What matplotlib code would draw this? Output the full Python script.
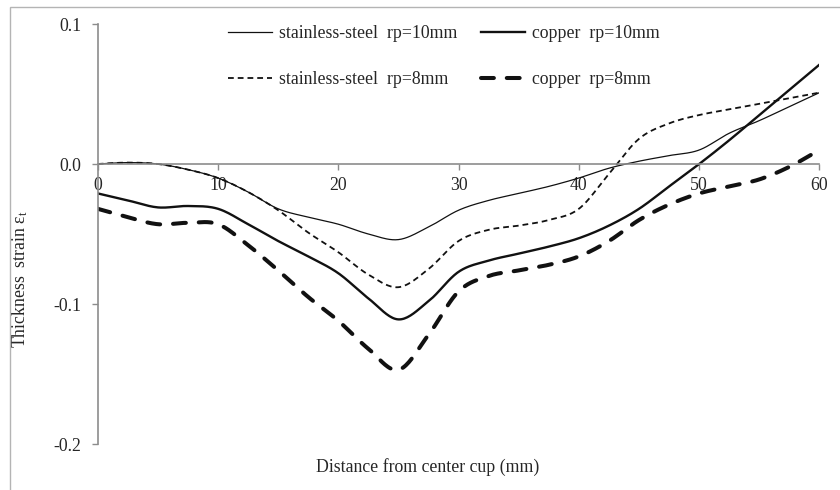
import numpy as np
import matplotlib
matplotlib.use("Agg")
import matplotlib.pyplot as plt
from matplotlib.patches import Rectangle

plt.rcParams['font.family'] = ['Liberation Serif', 'DejaVu Serif']
plt.rcParams['axes.unicode_minus'] = False
plt.rcParams['mathtext.fontset'] = 'custom'
plt.rcParams['mathtext.rm'] = 'Liberation Serif'
plt.rcParams['mathtext.it'] = 'Liberation Serif:italic'

# ---- data ----
distance = [0, 2.5, 5, 7.5, 10, 12.5, 15, 17.5, 20, 22.5, 25, 27.5, 30,
            32.5, 35, 37.5, 40, 42.5, 45, 47.5, 50, 52.5, 55, 57.5, 60]
ss_rp10 = [0.000, 0.001, 0.000, -0.004, -0.010, -0.020, -0.032, -0.038, -0.043,
           -0.050, -0.054, -0.045, -0.033, -0.026, -0.021, -0.016, -0.010,
           -0.003, 0.002, 0.006, 0.010, 0.022, 0.031, 0.041, 0.051]
cu_rp10 = [-0.021, -0.026, -0.031, -0.030, -0.032, -0.043, -0.055, -0.066,
           -0.078, -0.096, -0.111, -0.098, -0.077, -0.069, -0.064, -0.059,
           -0.053, -0.044, -0.032, -0.016, 0.000, 0.017, 0.035, 0.053, 0.071]
ss_rp8 = [0.000, 0.001, 0.000, -0.004, -0.010, -0.020, -0.033, -0.049, -0.063,
          -0.079, -0.088, -0.075, -0.055, -0.047, -0.044, -0.040, -0.032,
          -0.007, 0.018, 0.029, 0.035, 0.039, 0.043, 0.047, 0.051]
cu_rp8 = [-0.032, -0.038, -0.043, -0.042, -0.043, -0.058, -0.076, -0.095,
          -0.112, -0.132, -0.147, -0.122, -0.091, -0.080, -0.076, -0.072,
          -0.066, -0.055, -0.040, -0.029, -0.021, -0.016, -0.011, -0.002, 0.010]
labels = ['stainless-steel  rp=10mm', 'copper  rp=10mm',
          'stainless-steel  rp=8mm', 'copper  rp=8mm']
xticks = [0, 10, 20, 30, 40, 50, 60]
yticks = [-0.2, -0.1, 0.0, 0.1]


def smooth(x, y, n=20):
    """Catmull-Rom rendering of a smoothed line (like a spreadsheet smooth line)."""
    x = np.asarray(x, float)
    y = np.asarray(y, float)
    px = np.concatenate([[2 * x[0] - x[1]], x, [2 * x[-1] - x[-2]]])
    py = np.concatenate([[2 * y[0] - y[1]], y, [2 * y[-1] - y[-2]]])
    xs, ys = [], []
    t = np.linspace(0, 1, n, endpoint=False)
    for i in range(1, len(px) - 2):
        for arr, out in ((px, xs), (py, ys)):
            p0, p1, p2, p3 = arr[i - 1], arr[i], arr[i + 1], arr[i + 2]
            out.extend(0.5 * ((2 * p1) + (-p0 + p2) * t
                              + (2 * p0 - 5 * p1 + 4 * p2 - p3) * t ** 2
                              + (-p0 + 3 * p1 - 3 * p2 + p3) * t ** 3))
    xs.append(x[-1])
    ys.append(y[-1])
    return np.array(xs), np.array(ys)


FS = 12.8
fig = plt.figure(figsize=(8.4, 4.9), dpi=100)
ax = fig.add_axes([97.7 / 840, 1 - 444 / 490, 721.8 / 840, 420 / 490])

fig.patches.append(Rectangle((10 / 840, -0.1), 1.2, 1 - 7 / 490 + 0.1,
                             transform=fig.transFigure, fill=False,
                             edgecolor='#b4b4b4', lw=1.0))

col = '#111111'
h1, = ax.plot(*smooth(distance, ss_rp10), color=col, lw=0.9, label=labels[0])
h2, = ax.plot(*smooth(distance, cu_rp10), color=col, lw=1.7, label=labels[1])
h3, = ax.plot(*smooth(distance, ss_rp8), color=col, lw=1.3, dashes=(3.2, 2.2),
              label=labels[2])
h4, = ax.plot(*smooth(distance, cu_rp8), color=col, lw=2.9, dashes=(3.2, 3.2),
              dash_capstyle='round', label=labels[3])

ax.set_xlim(0, 60)
ax.set_ylim(-0.2, 0.1)
ax.set_xticks(xticks)
ax.set_yticks(yticks)
ax.set_xticklabels([str(v) for v in xticks])
ax.set_yticklabels(['%.1f' % v for v in yticks])

ax.spines['bottom'].set_position(('data', 0))
ax.spines['top'].set_visible(False)
ax.spines['right'].set_visible(False)
for s in ('bottom', 'left'):
    ax.spines[s].set_color('#8c8c8c')
    ax.spines[s].set_linewidth(1.2)
ax.tick_params(axis='both', direction='out', length=4, width=1.0,
               color='#8c8c8c', labelsize=FS, labelcolor='#262626')
ax.tick_params(axis='x', pad=5)
ax.tick_params(axis='y', pad=8)

ax.set_xlabel('Distance from center cup (mm)', fontsize=FS, color='#262626')
ax.xaxis.set_label_coords((428 - 97.7) / 721.8, (444 - 458) / 420)
ax.set_ylabel('Thickness  strain ε$_\\mathregular{t}$', fontsize=FS, color='#262626')
ax.yaxis.set_label_coords((30 - 97.7) / 721.8, (444 - 279) / 420)

leg = ax.legend([h1, h3, h2, h4], [labels[0], labels[2], labels[1], labels[3]],
                ncol=2, loc='upper left', bbox_to_anchor=(228 / 840, 1 - 25 / 490),
                bbox_transform=fig.transFigure, frameon=False, fontsize=FS,
                handlelength=2.5, handletextpad=0.35, columnspacing=1.35,
                labelspacing=1.62, borderaxespad=0, borderpad=0)
for t in leg.get_texts():
    t.set_color('#262626')

fig.savefig('out.png', dpi=100)
